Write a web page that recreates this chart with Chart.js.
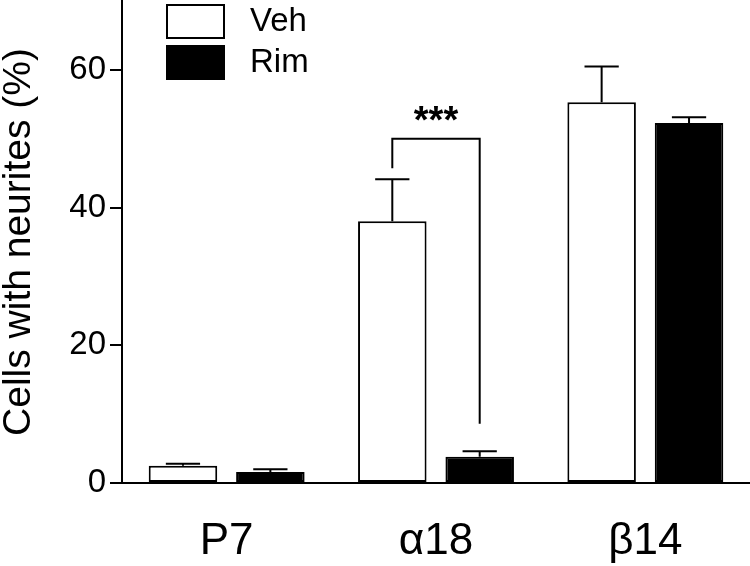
<!DOCTYPE html>
<html>
<head>
<meta charset="utf-8">
<script src="https://cdn.jsdelivr.net/npm/chart.js@4"></script>
<style>
	html, body { margin: 0; padding: 0; background: #fff; }
	canvas { display: block; }
</style>
</head>
<body>
<canvas id="myChart" width="750" height="566"></canvas>
<script>
const categories = ['P7', 'α18', 'β14'];
const vehMean = [2.5, 38.0, 55.3];
const vehSem = [0.3, 6.1, 5.2];
const rimMean = [1.6, 3.8, 52.3];
const rimSem = [0.4, 0.8, 0.8];
const yTicks = [0, 20, 40, 60];

// significance bracket (values in y units)
const sigCategory = 1;
const sigTop = 50;
const sigLeftEnd = 45.7;
const sigRightEnd = 8.6;
const sigStarsAt = 53.8;
const sigLabel = '***';

const errs = [vehSem, rimSem];
const FONT = "'Liberation Sans', Arial, sans-serif";

const errorBars = {
	id: 'errorBars',
	afterDatasetsDraw(chart){
		const ctx = chart.ctx;
		const y = chart.scales.y;
		ctx.save();
		ctx.strokeStyle = '#000';
		ctx.lineWidth = 2;
		chart.data.datasets.forEach((ds, di) => {
			const meta = chart.getDatasetMeta(di);
			meta.data.forEach((bar, i) => {
				const top = y.getPixelForValue(ds.data[i] + errs[di][i]);
				const half = bar.width / 4;
				ctx.beginPath();
				ctx.moveTo(bar.x, bar.y);
				ctx.lineTo(bar.x, top);
				ctx.moveTo(bar.x - half, top);
				ctx.lineTo(bar.x + half, top);
				ctx.stroke();
			});
		});

		// bracket
		const a = chart.getDatasetMeta(0).data[sigCategory];
		const b = chart.getDatasetMeta(1).data[sigCategory];
		const yt = y.getPixelForValue(sigTop);
		ctx.beginPath();
		ctx.moveTo(a.x, y.getPixelForValue(sigLeftEnd));
		ctx.lineTo(a.x, yt);
		ctx.lineTo(b.x, yt);
		ctx.lineTo(b.x, y.getPixelForValue(sigRightEnd));
		ctx.stroke();
		ctx.fillStyle = '#000';
		ctx.font = 'bold 38px ' + FONT;
		ctx.textAlign = 'center';
		ctx.textBaseline = 'middle';
		ctx.fillText(sigLabel, (a.x + b.x) / 2, y.getPixelForValue(sigStarsAt) + 10);
		ctx.restore();
	}
};

const boxLegend = {
	id: 'boxLegend',
	afterDraw(chart){
		const ctx = chart.ctx;
		ctx.save();
		chart.data.datasets.forEach((ds, i) => {
			const top = 5 + i * 41;
			ctx.fillStyle = ds.backgroundColor;
			ctx.fillRect(167, top, 57, 33);
			ctx.strokeStyle = '#000';
			ctx.lineWidth = 2;
			ctx.strokeRect(167, top, 57, 33);
			ctx.fillStyle = '#000';
			ctx.font = '33px ' + FONT;
			ctx.textAlign = 'left';
			ctx.textBaseline = 'middle';
			ctx.fillText(ds.label, 250, top + 17);
		});
		ctx.restore();
	}
};

const ctx = document.getElementById('myChart');
new Chart(ctx, {
	type: 'bar',
	data: {
		labels: categories,
		datasets: [
			{ label: 'Veh', data: vehMean, backgroundColor: '#fff', borderColor: '#000', borderWidth: 2, borderSkipped: false },
			{ label: 'Rim', data: rimMean, backgroundColor: '#000', borderColor: '#000', borderWidth: 2, borderSkipped: false }
		]
	},
	options: {
		responsive: false,
		animation: false,
		devicePixelRatio: 1,
		layout: { padding: { top: 1, right: 0, left: 0, bottom: 0 } },
		datasets: { bar: { categoryPercentage: 0.835, barPercentage: 0.784 } },
		plugins: { legend: { display: false }, tooltip: { enabled: false } },
		scales: {
			x: {
				grid: { display: false },
				border: { display: true, color: '#000', width: 2 },
				ticks: { color: '#000', font: { family: FONT, size: 44 }, padding: 24 },
				afterFit: s => { s.height = 83; s.paddingLeft = 0; s.paddingRight = 0; }
			},
			y: {
				min: 0,
				max: 70,
				afterBuildTicks: s => { s.ticks = yTicks.map(v => ({ value: v })); },
				grid: { drawOnChartArea: false, drawTicks: true, tickLength: 12, color: '#000', lineWidth: 2 },
				border: { display: true, color: '#000', width: 2 },
				ticks: { color: '#000', font: { family: FONT, size: 33 }, padding: 4 },
				title: { display: true, text: 'Cells with neurites (%)', color: '#000', font: { family: FONT, size: 39 }, padding: { top: -4, bottom: 0 } },
				afterFit: s => { s.width = 122; s.paddingTop = 0; s.paddingBottom = 0; }
			}
		}
	},
	plugins: [errorBars, boxLegend]
});
</script>
</body>
</html>
